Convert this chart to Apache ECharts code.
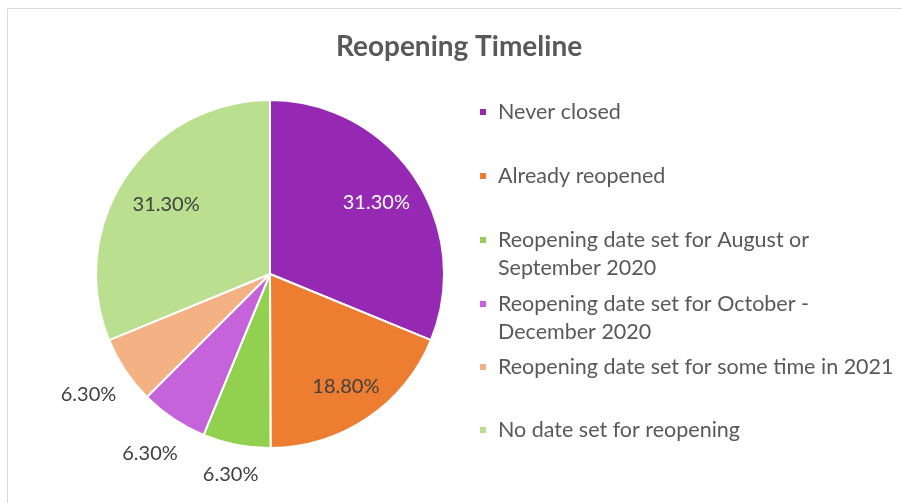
<!DOCTYPE html>
<html>
<head>
<meta charset="utf-8">
<script src="https://cdn.jsdelivr.net/npm/echarts@6/dist/echarts.min.js"></script>
<style>
html,body{margin:0;padding:0;background:#fff;}
#chart{width:902px;height:503px;}
</style>
</head>
<body>
<div id="chart"></div>
<script>
const titleText = 'Reopening Timeline';
const categories = [
  'Never closed',
  'Already reopened',
  'Reopening date set for August or September 2020',
  'Reopening date set for October - December 2020',
  'Reopening date set for some time in 2021',
  'No date set for reopening'
];
const legendLabels = [
  'Never closed',
  'Already reopened',
  'Reopening date set for August or\nSeptember 2020',
  'Reopening date set for October -\nDecember 2020',
  'Reopening date set for some time in 2021',
  'No date set for reopening'
];
const values = [31.3, 18.8, 6.3, 6.3, 6.3, 31.3];
const colors = ['#9629B4', '#ED7D31', '#92D050', '#C563DB', '#F4B183', '#B9DF8F'];

const FONT = 'Lato';
const center = [270, 274];
const R = 174;
// radial distance of each slice's label centre from the pie centre (layout)
const labelRadius = [125, 133, 201, 213, 215, 122];
const labelColor = ['#FFFFFF', '#404040', '#404040', '#404040', '#404040', '#404040'];

const chart = echarts.init(document.getElementById('chart'));

const baseData = categories.map((c, i) => ({ name: c, value: values[i] }));

const legendCenters = [112, 176, 240, 304, 367, 430];
const LH = 28;
const legends = categories.map((c, i) => {
  const two = legendLabels[i].indexOf('\n') >= 0;
  return {
    data: [{ name: c, itemStyle: { color: colors[i] } }],
    left: 478,
    top: two ? legendCenters[i] - LH * 1.5 : legendCenters[i] - LH / 2,
    padding: 0,
    itemWidth: 8,
    itemHeight: 8,
    icon: 'rect',
    selectedMode: false,
    formatter: () => (two ? '\n' : '') + legendLabels[i],
    textStyle: {
      fontFamily: FONT,
      fontSize: 21.5,
      color: '#595959',
      lineHeight: LH,
      padding: [0, 0, 0, 6]
    }
  };
});

const labelSeries = categories.map((c, k) => ({
  type: 'pie',
  center: center,
  radius: [labelRadius[k] - 40, labelRadius[k] + 40],
  startAngle: 90,
  silent: true,
  legendHoverLink: false,
  itemStyle: { color: 'rgba(0,0,0,0)', borderWidth: 0 },
  labelLine: { show: false },
  emphasis: { disabled: true },
  data: baseData.map((d, i) => ({
    ...d,
    label: {
      show: i === k,
      position: 'inside',
      formatter: (p) => p.value.toFixed(2) + '%',
      fontFamily: FONT,
      fontSize: 20,
      color: labelColor[i]
    }
  }))
}));

const option = {
  animation: false,
  title: {
    text: titleText,
    left: 454,
    top: 28,
    textAlign: 'center',
    textStyle: { fontFamily: FONT, fontSize: 28, fontWeight: 'bold', color: '#595959' }
  },
  legend: legends,
  graphic: [{
    type: 'rect',
    shape: { x: 7.5, y: 8.5, width: 1000, height: 1000 },
    style: { fill: 'none', stroke: '#D9D9D9', lineWidth: 1 },
    silent: true
  }],
  series: [
    {
      type: 'pie',
      center: center,
      radius: [0, R],
      startAngle: 90,
      clockwise: true,
      label: { show: false },
      labelLine: { show: false },
      itemStyle: { borderColor: '#fff', borderWidth: 2 },
      emphasis: { disabled: true },
      data: baseData.map((d, i) => ({ ...d, itemStyle: { color: colors[i] } }))
    }
  ].concat(labelSeries)
};
chart.setOption(option);
</script>
</body>
</html>
